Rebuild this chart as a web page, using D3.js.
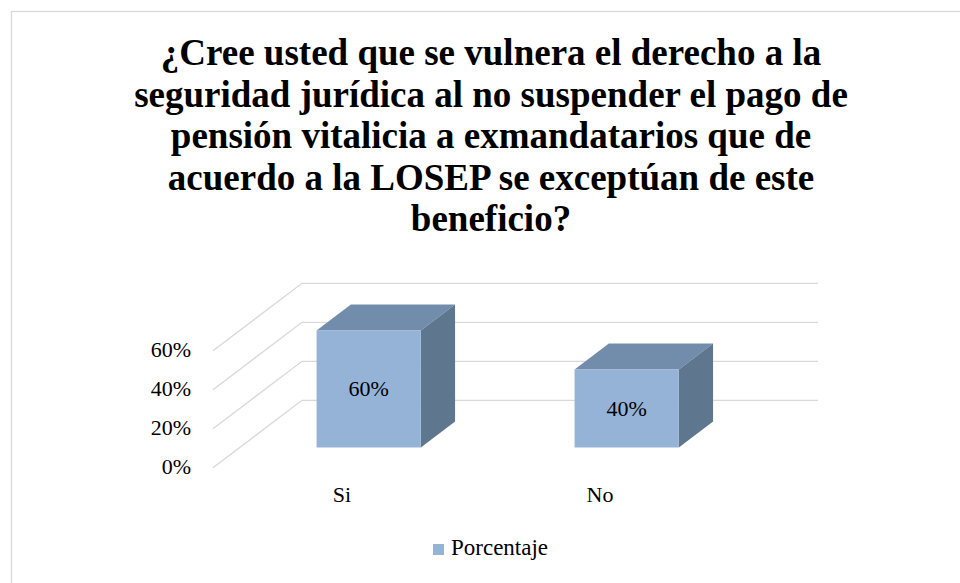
<!DOCTYPE html>
<html>
<head>
<meta charset="utf-8">
<script src="https://cdnjs.cloudflare.com/ajax/libs/d3/7.8.5/d3.min.js"></script>
<style>
    body { margin: 0; background: #fff; }
</style>
</head>
<body>
<div id="chart"></div>
<script>
// data
const categories = ['Si', 'No'];
const values = [0.60, 0.40];
const tickValues = [0, 0.2, 0.4, 0.6];
const seriesName = 'Porcentaje';
const titleLines = [
    '¿Cree usted que se vulnera el derecho a la',
    'seguridad jurídica al no suspender el pago de',
    'pensión vitalicia a exmandatarios que de',
    'acuerdo a la LOSEP se exceptúan de este',
    'beneficio?'
];

const width = 960, height = 583;
const fontFamily = '"Times New Roman", "Liberation Serif", serif';

const svg = d3.select('#chart').append('svg')
    .attr('width', width)
    .attr('height', height)
    .attr('font-family', fontFamily);

// chart border
svg.append('rect')
    .attr('x', 11.5).attr('y', 11.5)
    .attr('width', 980).attr('height', 600)
    .attr('fill', 'none')
    .attr('stroke', '#d9d9d9')
    .attr('stroke-width', 1.3);

// title
svg.append('text')
    .attr('text-anchor', 'middle')
    .attr('font-size', 37)
    .attr('font-weight', 'bold')
    .selectAll('tspan')
    .data(titleLines)
    .enter().append('tspan')
    .attr('x', 491)
    .attr('y', (d, i) => 65 + i * 41.5)
    .text(d => d);

// scales
let x = d3.scaleBand()
    .domain(categories)
    .range([213, 729])
    .padding(0);

let y = d3.scaleLinear()
    .domain([0, 0.6])
    .range([467.7, 350.7]);

// depth of the floor: 0 = front, 1 = back
let depthX = d3.scaleLinear().domain([0, 1]).range([0, 89]);
let depthY = d3.scaleLinear().domain([0, 1]).range([0, -67.4]);

let floorRight = x.range()[1];

// gridlines (floor diagonal + back wall)
svg.append('g')
    .selectAll('path')
    .data(tickValues)
    .enter().append('path')
    .attr('fill', 'none')
    .attr('stroke', '#d9d9d9')
    .attr('stroke-width', 1.3)
    .attr('d', d => {
        let x0 = x.range()[0], y0 = y(d);
        return `M${x0},${y0} L${x0 + depthX(1)},${y0 + depthY(1)} L${floorRight + depthX(1)},${y0 + depthY(1)}`;
    });

// y tick labels
svg.append('g')
    .selectAll('text')
    .data(tickValues)
    .enter().append('text')
    .attr('x', 191)
    .attr('y', d => y(d) + 1)
    .attr('text-anchor', 'end')
    .attr('dominant-baseline', 'middle')
    .attr('font-size', 22)
    .text(d => d3.format('.0%')(d));

// 3d bars
let barFront = 0.30, barBack = 0.685;
let barWidth = x.bandwidth() * 0.404;
let bars = svg.append('g')
    .selectAll('g')
    .data(categories.map((c, i) => ({cat: c, value: values[i]})))
    .enter().append('g');

function barGeom(d) {
    let cx = x(d.cat) + x.bandwidth() / 2 + depthX(barFront);
    let x0 = cx - barWidth / 2, x1 = cx + barWidth / 2;
    let yb = y(0) + depthY(barFront), yt = y(d.value) + depthY(barFront);
    let dx = depthX(barBack) - depthX(barFront), dy = depthY(barBack) - depthY(barFront);
    return {x0, x1, yb, yt, dx, dy, cx};
}

// top face
bars.append('path')
    .attr('fill', '#728dac')
    .attr('d', d => {
        let g = barGeom(d);
        return `M${g.x0},${g.yt} L${g.x0 + g.dx},${g.yt + g.dy} L${g.x1 + g.dx},${g.yt + g.dy} L${g.x1},${g.yt} Z`;
    });

// side face
bars.append('path')
    .attr('fill', '#5f768f')
    .attr('d', d => {
        let g = barGeom(d);
        return `M${g.x1},${g.yt} L${g.x1 + g.dx},${g.yt + g.dy} L${g.x1 + g.dx},${g.yb + g.dy} L${g.x1},${g.yb} Z`;
    });

// front face
bars.append('rect')
    .attr('fill', '#95b3d7')
    .attr('x', d => barGeom(d).x0)
    .attr('y', d => barGeom(d).yt)
    .attr('width', barWidth)
    .attr('height', d => barGeom(d).yb - barGeom(d).yt);

// data labels
bars.append('text')
    .attr('x', d => barGeom(d).cx)
    .attr('y', d => (barGeom(d).yt + barGeom(d).yb) / 2 + 2)
    .attr('text-anchor', 'middle')
    .attr('dominant-baseline', 'middle')
    .attr('font-size', 22)
    .text(d => d3.format('.0%')(d.value));

// category labels
svg.append('g')
    .selectAll('text')
    .data(categories)
    .enter().append('text')
    .attr('x', d => x(d) + x.bandwidth() / 2)
    .attr('y', 497)
    .attr('text-anchor', 'middle')
    .attr('dominant-baseline', 'middle')
    .attr('font-size', 22)
    .text(d => d);

// legend
let legend = svg.append('g').attr('transform', 'translate(433,544)');
legend.append('rect')
    .attr('width', 11).attr('height', 11)
    .attr('fill', '#95b3d7');
legend.append('text')
    .attr('x', 18)
    .attr('y', 6)
    .attr('dominant-baseline', 'middle')
    .attr('font-size', 23)
    .text(seriesName);
</script>
</body>
</html>
